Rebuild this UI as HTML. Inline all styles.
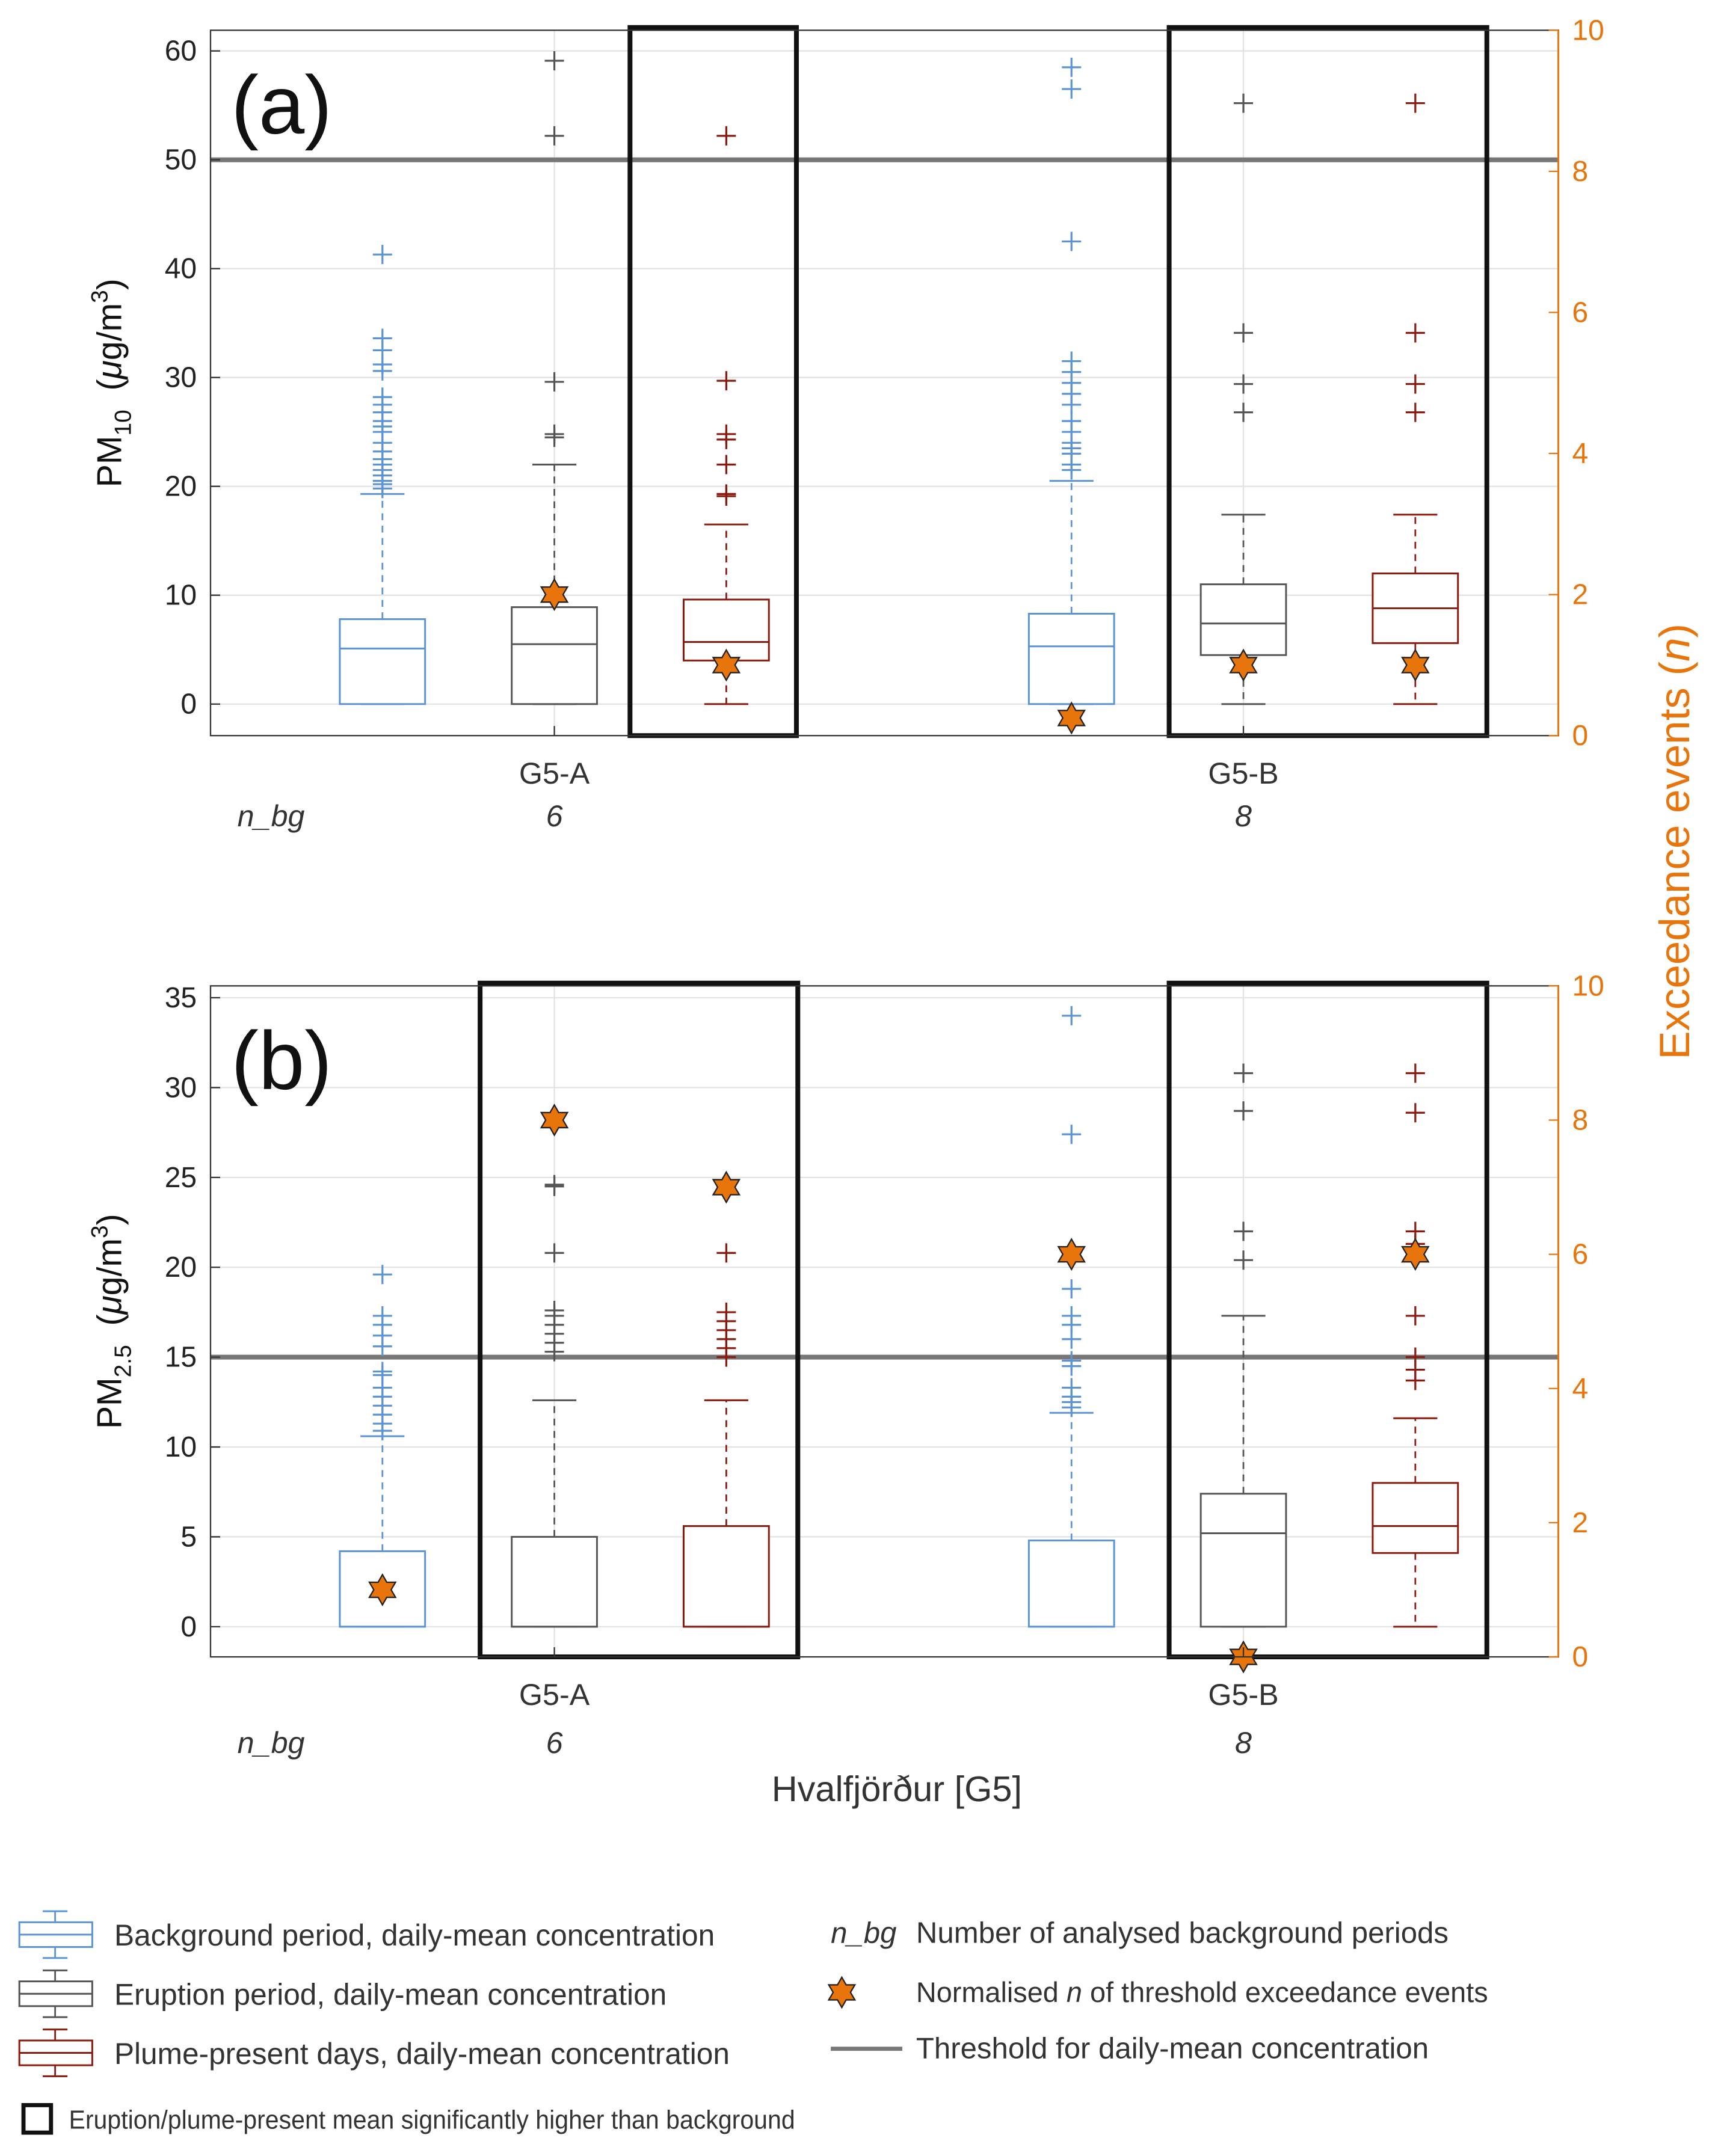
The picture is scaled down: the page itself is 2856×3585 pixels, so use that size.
<!DOCTYPE html>
<html><head><meta charset="utf-8"><style>
html,body{margin:0;padding:0;background:#fff}
svg{display:block;font-family:"Liberation Sans",Arial,sans-serif}
</style></head><body>
<svg id="chart" width="2856" height="3585" viewBox="0 0 1249 1568" xmlns="http://www.w3.org/2000/svg"></svg>
<script>
// ---- data ----
const groups = ["G5-A","G5-B"];
const nbg = ["6","8"];
const seriesNames = ["background","eruption","plume"];
// panel a (PM10): [q1, median, q3, lowerWhisker, upperWhisker]
const pm10Stats = [
  [[0,5.1,7.8,0,19.3],[0,5.5,8.9,0,22],[4,5.7,9.6,0,16.5]],
  [[0,5.3,8.3,0,20.5],[4.5,7.4,11,0,17.4],[5.6,8.8,12,0,17.4]]
];
const pm10Outliers = [
  [[41.3,33.6,32.5,31.2,30.6,28.2,27.5,26.8,26,25.5,25,24,23.2,22.5,22,21.5,21,20.5,20.2,19.8],
   [24.5,24.8,29.6,52.2,59.1],
   [19.1,19.3,22,24.3,24.8,29.7,52.2]],
  [[58.5,56.5,42.5,31.5,30.5,29.5,28.5,27.5,26,25,24,23.5,23,22,21.5],
   [26.8,29.4,34.1,55.2],
   [26.8,29.4,34.1,55.2]]
];
const pm10Exceed = [[null,2,1],[0.25,1,1]];
const pm10Threshold = 50;
const pm10Signif = [[false,false,true],[false,true,true]];
// panel b (PM2.5)
const pm25Stats = [
  [[0,0,4.2,0,10.6],[0,0,5.0,0,12.6],[0,0,5.6,0,12.6]],
  [[0,0,4.8,0,11.9],[0,5.2,7.4,0,17.3],[4.1,5.6,8,0,11.6]]
];
const pm25Outliers = [
  [[19.6,17.3,16.8,16.2,15.6,14.2,14,13.3,12.8,12.3,11.8,11.3,10.9],
   [15.3,15.8,16.3,16.8,17.3,17.6,20.8,24.5,24.6],
   [15,15.5,16,16.5,17,17.5,20.8,24.5]],
  [[34,27.4,18.8,17.3,16.8,16,14.8,14.5,13.3,12.8,12.5,12.2],
   [20.4,22,28.7,30.8],
   [13.7,14.3,15,17.3,21.3,22,28.6,30.8]]
];
const pm25Exceed = [[1,8,7],[6,0,6]];
const pm25Threshold = 15;
const pm25Signif = [[false,true,true],[false,true,true]];
const pm10Ticks = [0,10,20,30,40,50,60];
const pm25Ticks = [0,5,10,15,20,25,30,35];
const rightTicks = [0,2,4,6,8,10];

const colors = ["#5b93d6","#555555","#8b1a0e"];
const orange = "#e8740c";
const NS="http://www.w3.org/2000/svg";
const svg=document.getElementById('chart');
function el(tag,attrs,parent,text){const e=document.createElementNS(NS,tag);for(const k in attrs)e.setAttribute(k,attrs[k]);if(text!==undefined)e.textContent=text;(parent||svg).appendChild(e);return e;}

const X0=153,X1=1133;
const groupX=[403,904];
const offs=[-125,0,125];
const BW=62;

function star(g,cx,cy){
  const r=11,ri=6.3;let pts=[];
  for(let i=0;i<12;i++){const a=-Math.PI/2+i*Math.PI/6;const rr=i%2?ri:r;pts.push((cx+rr*Math.cos(a)).toFixed(2)+","+(cy+rr*Math.sin(a)).toFixed(2));}
  const s=el('polygon',{points:pts.join(' '),fill:orange,stroke:"#222","stroke-width":1},g);
  
  
}

function panel(o){
  const g=el('g',{});
  
  
  const y=v=>o.yb-(v-o.vmin)/(o.vmax-o.vmin)*(o.yb-o.yt);
  const yr=n=>o.yb-n/10*(o.yb-o.yt);
  o.ticks.forEach(t=>el('line',{x1:X0,x2:X1,y1:y(t),y2:y(t),stroke:"#e3e3e3","stroke-width":1},g));
  groupX.forEach(gx=>el('line',{x1:gx,x2:gx,y1:o.yt,y2:o.yb,stroke:"#e3e3e3","stroke-width":1},g));
  const th=el('line',{x1:X0,x2:X1,y1:y(o.threshold),y2:y(o.threshold),stroke:"#777","stroke-width":3.5},g);
  
  
  for(let gi=0;gi<2;gi++)for(let si=0;si<3;si++){
    const cx=groupX[gi]+offs[si];const c=colors[si];const st=o.stats[gi][si];
    const bg=el('g',{},g);
    
    
    el('line',{x1:cx,x2:cx,y1:y(st[2]),y2:y(st[4]),stroke:c,"stroke-width":1.2,"stroke-dasharray":"5,4"},bg);
    el('line',{x1:cx,x2:cx,y1:y(st[0]),y2:y(st[3]),stroke:c,"stroke-width":1.2,"stroke-dasharray":"5,4"},bg);
    el('line',{x1:cx-16,x2:cx+16,y1:y(st[4]),y2:y(st[4]),stroke:c,"stroke-width":1.3},bg);
    el('line',{x1:cx-16,x2:cx+16,y1:y(st[3]),y2:y(st[3]),stroke:c,"stroke-width":1.3},bg);
    el('rect',{x:cx-BW/2,y:y(st[2]),width:BW,height:y(st[0])-y(st[2]),fill:"#fff",stroke:c,"stroke-width":1.3},bg);
    el('line',{x1:cx-BW/2,x2:cx+BW/2,y1:y(st[1]),y2:y(st[1]),stroke:c,"stroke-width":1.3},bg);
    o.outl[gi][si].forEach(v=>{
      const p=el('path',{d:`M${cx-7} ${y(v)}h14M${cx} ${y(v)-7}v14`,stroke:c,"stroke-width":1.4,fill:"none"},bg);
      
      
    });
  }
  for(let gi=0;gi<2;gi++){
    const s=o.signif[gi];let a=-1,b=-1;
    s.forEach((f,i)=>{if(f){if(a<0)a=i;b=i;}});
    if(a>=0){
      let left,right;
      if(a===b){left=groupX[gi]+offs[a]-70;right=groupX[gi]+offs[a]+51;}
      else{left=groupX[gi]+offs[a]-54;right=groupX[gi]+offs[b]+52;}
      const r=el('rect',{x:left,y:o.yt-2,width:right-left,height:o.yb-o.yt+2,fill:"none",stroke:"#111","stroke-width":3.5},g);
      
      
    }
  }
  for(let gi=0;gi<2;gi++)for(let si=0;si<3;si++){
    const n=o.exceed[gi][si];if(n===null)continue;
    star(g,groupX[gi]+offs[si],yr(n));
  }
  el('rect',{x:X0,y:o.yt,width:X1-X0,height:o.yb-o.yt,fill:"none",stroke:"#333","stroke-width":1},g);
  el('line',{x1:X1,x2:X1,y1:o.yt,y2:o.yb,stroke:orange,"stroke-width":1.3},g);
  o.ticks.forEach(t=>{
    el('line',{x1:X0,x2:X0+7,y1:y(t),y2:y(t),stroke:"#333"},g);
    const tx=el('text',{x:X0-10,y:y(t)+7,"text-anchor":"end","font-size":21,fill:"#222"},g,String(t));
    
    
  });
  rightTicks.forEach(t=>{
    el('line',{x1:X1,x2:X1-7,y1:yr(t),y2:yr(t),stroke:orange},g);
    const tx=el('text',{x:X1+10,y:yr(t)+7,"font-size":21,fill:orange},g,String(t));
    
    
  });
  groupX.forEach((gx,i)=>{
    el('line',{x1:gx,x2:gx,y1:o.yb,y2:o.yb-7,stroke:"#333"},g);
    const t1=el('text',{x:gx,y:o.yb+35,"text-anchor":"middle","font-size":22,fill:"#333"},g,groups[i]);
    
    
    const t2=el('text',{x:gx,y:o.yb+o.nbgOff,"text-anchor":"middle","font-size":22,"font-style":"italic",fill:"#333"},g,nbg[i]);
    
    
  });
  const t3=el('text',{x:197,y:o.yb+o.nbgOff,"text-anchor":"middle","font-size":22,"font-style":"italic",fill:"#333"},g,"n_bg");
  
  
  const pl=el('text',{x:168,y:o.yt+75,"font-size":60,fill:"#111"},g,o.label);
  
  
  const yl=el('text',{transform:`translate(88 ${(o.yt+o.yb)/2}) rotate(-90)`,"text-anchor":"middle","font-size":25,fill:"#111"},g);
  
  
  yl.innerHTML=o.ylabel;
  return g;
}

panel({name:"panel-a-pm10",yt:22,yb:535,vmin:-2.9,vmax:61.9,ticks:pm10Ticks,stats:pm10Stats,outl:pm10Outliers,exceed:pm10Exceed,threshold:pm10Threshold,signif:pm10Signif,label:"(a)",nbgOff:66,
  ylabel:'PM<tspan font-size="17" dy="7">10</tspan><tspan dy="-7" xml:space="preserve">  (</tspan><tspan font-style="italic">μ</tspan>g/m<tspan font-size="17" dy="-10">3</tspan><tspan dy="10">)</tspan>'});
panel({name:"panel-b-pm25",yt:717,yb:1205,vmin:-1.68,vmax:35.66,ticks:pm25Ticks,stats:pm25Stats,outl:pm25Outliers,exceed:pm25Exceed,threshold:pm25Threshold,signif:pm25Signif,label:"(b)",nbgOff:70,
  ylabel:'PM<tspan font-size="17" dy="7">2.5</tspan><tspan dy="-7" xml:space="preserve">  (</tspan><tspan font-style="italic">μ</tspan>g/m<tspan font-size="17" dy="-10">3</tspan><tspan dy="10">)</tspan>'});

const rl=el('text',{transform:"translate(1228 612) rotate(-90)","text-anchor":"middle","font-size":31,fill:orange});


rl.innerHTML='Exceedance events (<tspan font-style="italic">n</tspan>)';
const xl=el('text',{x:652,y:1310,"text-anchor":"middle","font-size":26,fill:"#333"},svg,"Hvalfjörður [G5]");



const lg=el('g',{});


const legTxt=["Background period, daily-mean concentration","Eruption period, daily-mean concentration","Plume-present days, daily-mean concentration"];
[1407,1450,1493].forEach((ly,i)=>{
  const c=colors[i];const e=el('g',{},lg);
  
  
  el('line',{x1:40,x2:40,y1:ly-17,y2:ly+17,stroke:c,"stroke-width":1.2},e);
  el('line',{x1:31,x2:49,y1:ly-17,y2:ly-17,stroke:c,"stroke-width":1.3},e);
  el('line',{x1:31,x2:49,y1:ly+17,y2:ly+17,stroke:c,"stroke-width":1.3},e);
  el('rect',{x:14,y:ly-9,width:53,height:18,fill:"#fff",stroke:c,"stroke-width":1.3},e);
  el('line',{x1:14,x2:67,y1:ly,y2:ly,stroke:c,"stroke-width":1.3},e);
  el('text',{x:83,y:ly+8,"font-size":21.7,fill:"#333"},e,legTxt[i]);
});
const l4=el('g',{},lg);


el('rect',{x:17,y:1531,width:20,height:20,fill:"none",stroke:"#111","stroke-width":3},l4);
el('text',{x:50,y:1548,"font-size":19,fill:"#333",textLength:528,lengthAdjust:"spacingAndGlyphs"},l4,"Eruption/plume-present mean significantly higher than background");
const l5=el('g',{},lg);


el('text',{x:604,y:1413,"font-size":21.5,"font-style":"italic",fill:"#333"},l5,"n_bg");
el('text',{x:666,y:1413,"font-size":21.5,fill:"#333"},l5,"Number of analysed background periods");
const l6=el('g',{},lg);


star(l6,612,1449);
const t6=el('text',{x:666,y:1456,"font-size":20.5,fill:"#333"},l6);
t6.innerHTML='Normalised <tspan font-style="italic">n</tspan> of threshold exceedance events';
const l7=el('g',{},lg);


el('line',{x1:604,x2:656,y1:1490,y2:1490,stroke:"#777","stroke-width":3},l7);
el('text',{x:666,y:1497,"font-size":21.5,fill:"#333"},l7,"Threshold for daily-mean concentration");
</script>
</body></html>
